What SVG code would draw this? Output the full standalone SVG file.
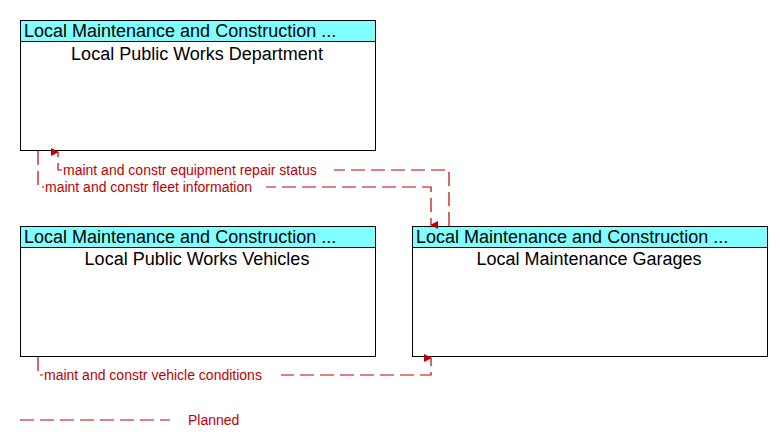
<svg xmlns="http://www.w3.org/2000/svg" width="782" height="447" viewBox="0 0 782 447">
<style>
.box{fill:#fff;stroke:#000;stroke-width:1}
.hdr{fill:#7fffff;stroke:#000;stroke-width:1}
.t{font-family:"Liberation Sans",Arial,sans-serif;font-size:18px;fill:#000}
.c{fill:none;stroke:#c00000;stroke-width:1.2;stroke-dasharray:14,6}
.l{font-family:"Liberation Sans",Arial,sans-serif;font-size:14px;fill:#c00000}
</style>
<defs><marker id="a" markerWidth="8" markerHeight="8" refX="4" refY="7" orient="auto-start-reverse" markerUnits="userSpaceOnUse" viewBox="0 0 8 8"><path d="M0,0L8,0L4,8Z" fill="#c00000"/></marker></defs>
<rect width="782" height="447" fill="#fff"/>
<g id="dept"><rect class="box" x="20.5" y="20.5" width="355" height="130"/><rect class="hdr" x="20.5" y="20.5" width="355" height="21"/><text class="t" x="24" y="37">Local Maintenance and Construction ...</text><text class="t" x="197" y="60" text-anchor="middle">Local Public Works Department</text></g>
<g id="veh"><rect class="box" x="20.5" y="226.5" width="355" height="130"/><rect class="hdr" x="20.5" y="226.5" width="355" height="21"/><text class="t" x="24" y="243">Local Maintenance and Construction ...</text><text class="t" x="197" y="265" text-anchor="middle">Local Public Works Vehicles</text></g>
<g id="gar"><rect class="box" x="412.5" y="226.5" width="355" height="130"/><rect class="hdr" x="412.5" y="226.5" width="355" height="21"/><text class="t" x="416" y="243">Local Maintenance and Construction ...</text><text class="t" x="589" y="265" text-anchor="middle">Local Maintenance Garages</text></g>
<g id="connectors">
<path class="c" d="M449,226V170H58V152" marker-end="url(#a)"/>
<path class="c" d="M38,151V187H431V225" marker-end="url(#a)"/>
<path class="c" d="M38,357V375H431V358" marker-end="url(#a)"/>
<rect x="62" y="162" width="272" height="15" fill="#fff"/>
<text class="l" x="63" y="175">maint and constr equipment repair status</text>
<rect x="44" y="180" width="222" height="15" fill="#fff"/>
<text class="l" x="45" y="192">maint and constr fleet information</text>
<rect x="43" y="367" width="238" height="15" fill="#fff"/>
<text class="l" x="44" y="380">maint and constr vehicle conditions</text>
</g>
<line class="c" x1="20" y1="420" x2="170" y2="420"/>
<text class="l" x="188" y="425">Planned</text>
</svg>
